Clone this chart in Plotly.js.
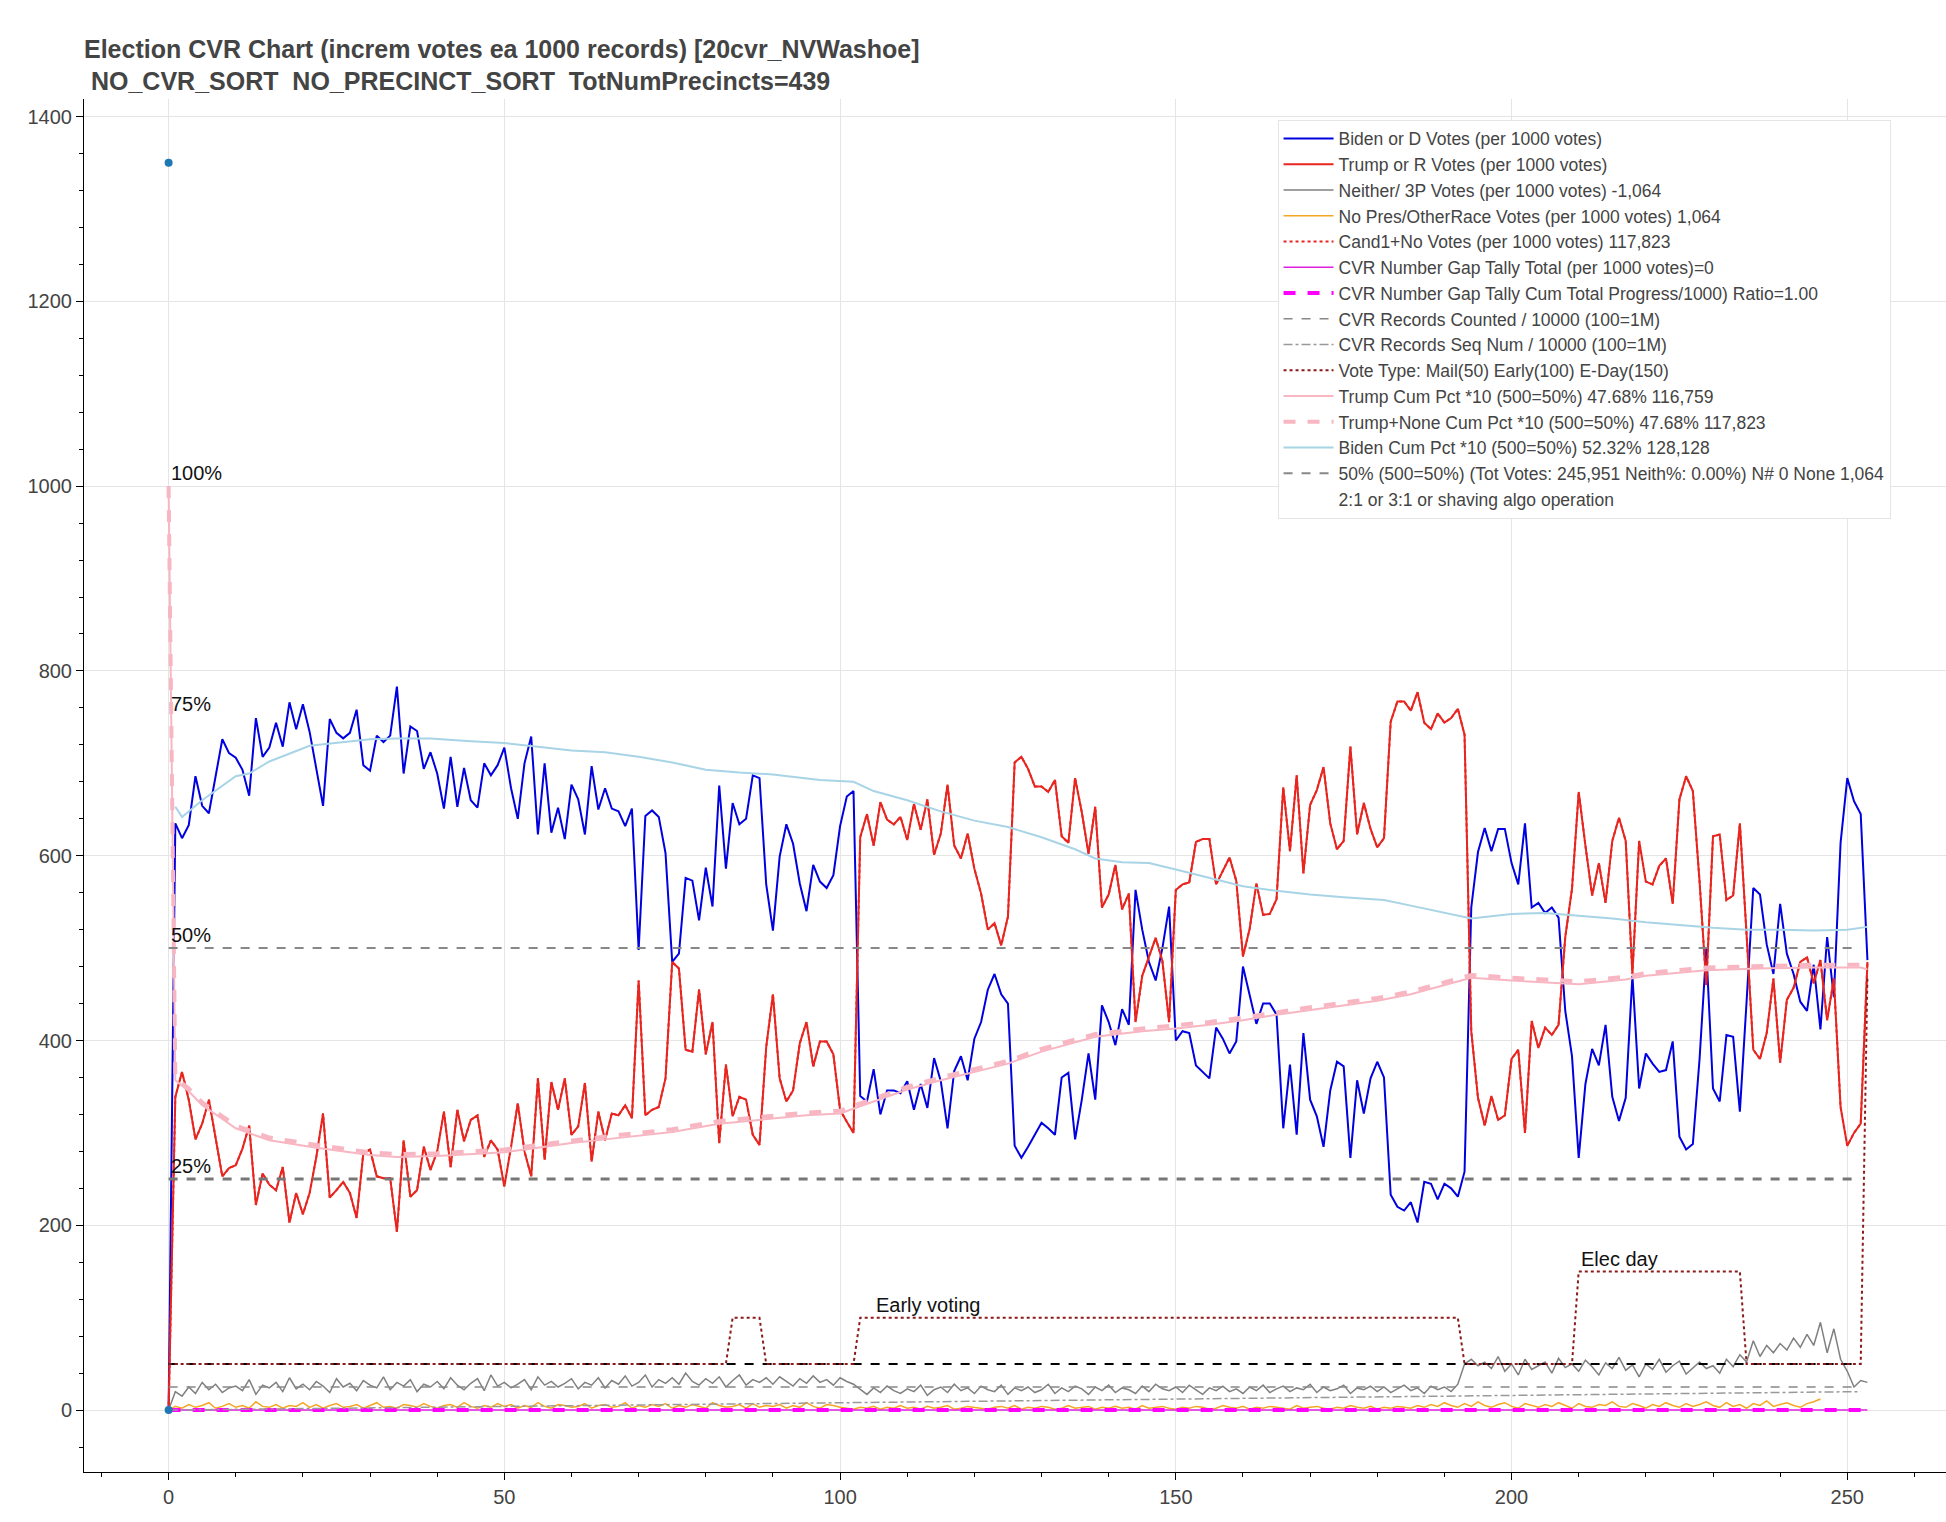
<!DOCTYPE html>
<html><head><meta charset="utf-8">
<script src="https://cdn.plot.ly/plotly-3.0.1.min.js"></script>
<style>body{margin:0;background:#fff}#c{width:1946px;height:1522px}</style>
</head><body><div id="c"></div>
<script>
const biden = [0,635,619,633,686,654,646,686,726,711,706,693,665,749,707,717,744,718,766,737,764,734,696,654,748,733,727,733,758,698,692,730,723,730,783,689,740,735,694,712,689,651,707,653,695,660,652,
700,687,698,717,673,640,700,729,623,700,625,652,618,677,661,623,697,650,673,651,648,632,651,498,643,649,642,603,485,494,576,573,530,587,545,676,586,657,634,640,687,684,569,519,599,634,613,570,540,590,572,565,579,632,664,670,
340,334,369,320,346,346,343,356,325,353,327,381,356,305,367,383,357,402,420,455,472,450,440,286,273,285,298,311,305,298,360,365,293,336,386,336,438,420,395,434,417,563,520,485,465,500,545,400,410,
408,373,366,359,414,402,386,399,480,450,418,440,440,428,305,374,298,408,336,318,285,346,377,372,273,357,321,359,377,360,233,220,216,225,203,247,245,228,245,240,231,258,
544,604,630,605,629,629,592,569,635,544,549,538,544,533,432,383,273,353,391,373,417,339,313,338,470,348,386,375,366,368,399,296,282,288,380,499,348,334,406,404,323,442,565,558,504,472,548,494,472,442,432,482,412,512,447,614,684,659,645,487];
const trump = [0,339,366,336,293,310,336,294,253,262,265,283,308,222,256,244,238,263,203,235,212,235,274,321,230,238,247,235,208,278,282,253,251,251,193,292,231,238,285,260,280,323,263,325,291,314,319,274,292,282,242,285,332,280,253,359,271,355,325,359,298,307,354,269,323,292,321,319,330,316,465,319,325,328,359,485,478,390,388,455,385,420,289,374,318,339,336,298,287,393,450,359,334,346,397,420,372,399,399,385,325,312,300,
620,645,611,658,639,634,642,617,656,628,661,601,624,677,611,597,624,586,559,520,527,503,534,701,707,694,675,675,669,682,621,614,684,647,602,653,544,558,590,542,559,420,470,491,511,486,420,563,569,571,615,618,618,569,584,598,573,491,521,570,536,537,553,674,605,687,581,655,671,696,635,607,616,718,623,657,629,609,619,745,767,767,757,777,744,737,754,744,749,759,731,
410,338,308,340,314,319,380,390,300,421,392,414,406,417,512,564,669,611,557,592,549,616,641,616,472,616,572,569,589,597,548,661,686,670,572,460,621,623,552,557,635,515,390,380,408,467,376,444,457,485,490,462,487,422,467,328,286,300,310,485];
const neither = [0,20,15,25,18,30,22,28,19,24,26,21,33,17,27,24,30,20,35,23,28,22,31,26,19,34,25,29,21,32,27,24,36,22,30,26,33,20,28,25,31,23,35,27,22,29,34,21,38,26,30,24,28,33,22,36,27,31,25,29,34,23,30,27,35,24,32,28,37,26,30,38,25,33,29,35,28,40,31,27,34,29,36,25,32,38,27,33,30,35,28,36,31,26,34,29,37,30,33,27,35,31,28,22,17,24,19,26,21,18,23,20,27,16,22,25,19,28,21,24,18,26,22,20,27,17,24,21,25,19,22,28,18,24,20,26,23,17,25,21,27,19,24,22,18,26,20,28,23,21,25,19,27,22,17,24,21,26,20,23,18,25,21,27,19,23,26,20,24,22,28,19,25,21,23,27,18,24,22,26,20,25,19,23,27,21,24,18,26,22,25,20,28,50,55,48,52,45,58,42,50,38,55,44,48,52,40,56,46,50,42,54,47,38,51,45,57,43,49,36,50,44,55,41,48,53,39,46,52,45,48,40,55,47,60,52,75,58,70,62,72,65,78,68,82,70,95,62,88,55,42,25,32,30];
const nopres = [0,4,2,6,3,5,8,2,4,7,3,5,2,9,4,3,6,2,5,4,8,3,6,2,5,7,3,4,6,2,5,8,3,4,2,6,5,3,7,4,2,5,6,3,8,4,2,5,3,7,4,6,2,5,3,8,4,2,6,5,3,4,7,2,5,6,3,4,8,2,5,3,6,4,7,2,5,3,6,4,2,8,5,3,4,6,2,7,3,5,4,6,2,5,3,8,4,2,6,5,3,2,1,3,2,4,1,3,2,5,2,3,1,4,2,3,5,1,2,4,3,2,1,3,4,2,5,1,3,2,4,3,1,2,5,2,3,4,1,3,2,4,2,3,1,5,2,3,4,2,1,3,2,4,3,1,2,5,3,2,4,1,3,2,4,3,2,1,5,2,3,4,2,1,3,2,5,3,2,4,1,3,2,4,3,2,5,3,6,4,8,5,3,7,4,9,5,3,6,8,4,2,7,5,3,6,4,8,5,2,7,4,3,6,5,9,4,3,7,5,2,6,4,8,5,3,7,4,6,9,5,3,8,4,6,2,7,5,10,4,6,8,5,3,7,9,12];
const voteType = [];
// vote type segments: Mail 50, Early 100, E-Day 150
const voteTypeSegments = [[0,83,50],[84,88,100],[89,102,50],[103,192,100],[193,209,50],[210,234,150],[235,252,50],[253,253,470]];
voteTypeSegments.forEach(s=>{for(let i=s[0];i<=s[1];i++) voteType.push(s[2]);});
const bidenCumX = [1,2,5,10,12,15,21,25,30,34,39,45,50,55,60,65,70,75,80,85,90,97,102,105,110,115,120,125,130,135,138,142,146,150,155,160,165,170,175,181,185,190,194,200,205,210,215,220,225,230,235,240,245,250,253];
const bidenCum = [653,642,660,686,689,702,719,722,726,727,727,724,722,718,714,712,707,701,693,690,688,682,680,670,660,648,638,631,620,607,597,593,592,585,576,567,562,558,555,552,546,538,532,537,538,535,532,528,525,522,520,520,519,520,523];
const trumpCumX = [0,1,3,5,8,10,15,22,30,34,40,45,50,55,60,65,70,75,82,90,95,100,105,110,115,120,125,130,135,138,145,150,155,160,165,170,175,180,185,190,194,200,207,210,217,220,229,237,245,252,253];
const trumpCum = [1000,357,345,330,315,305,292,284,276,274,275,277,279,284,289,293,297,301,310,316,319,321,334,347,357,366,375,388,398,404,410,413,417,422,428,433,438,443,450,460,468,465,462,461,466,470,476,478,479,479,477];
const trumpNoneCum = [1000,360,348,333,318,308,295,287,279,277,278,280,282,287,292,296,300,304,313,319,322,324,337,350,360,369,378,391,401,407,413,416,420,425,431,436,441,446,453,463,471,468,465,464,469,473,479,481,482,482,480];
const seqX = [0,50,100,150,200,252];
const seqNum = [0,4,8,12,16,20];
const pctLevels = [1000,750,500,250];
const pctLabels = ["100%","75%","50%","25%"];
const xRange = [0,252];
const markers = {x:[0,0], y:[0,1350]};

const N = biden.length;
const xs = Array.from({length:N},(_,i)=>i);
const zeros = xs.map(()=>0);
const L = (x,y,name,line,extra)=>Object.assign({x,y,name,type:'scatter',mode:'lines',line},extra||{});
const traces = [
  L(xs,biden,'Biden or D Votes (per 1000 votes)',{color:'#0000e0',width:2}),
  L(xs,trump,'Trump or R Votes (per 1000 votes)',{color:'#e8251f',width:2}),
  L(xs,neither,'Neither/ 3P Votes (per 1000 votes) -1,064',{color:'#808080',width:1.5}),
  L(xs,nopres,'No Pres/OtherRace Votes (per 1000 votes) 1,064',{color:'#f5a623',width:1.5}),
  L(xs,trump,'Cand1+No Votes (per 1000 votes) 117,823',{color:'#e8251f',width:2,dash:'dot'}),
  L(xs,zeros,'CVR Number Gap Tally Total (per 1000 votes)=0',{color:'#e020e0',width:1.5}),
  L(xs,zeros,'CVR Number Gap Tally Cum Total Progress/1000) Ratio=1.00',{color:'#ff00ff',width:4,dash:'dash'}),
  L(xRange,[25,25],'CVR Records Counted / 10000 (100=1M)',{color:'#888',width:1.5,dash:'dash'}),
  L(seqX,seqNum,'CVR Records Seq Num / 10000 (100=1M)',{color:'#999',width:1.5,dash:'dashdot'}),
  L(xRange,[50,50],'',{color:'#000',width:2,dash:'dash'},{showlegend:false}),
  L(xs,voteType,'Vote Type: Mail(50) Early(100) E-Day(150)',{color:'#8b1a1a',width:2,dash:'dot'}),
  L(trumpCumX,trumpCum,'Trump Cum Pct *10 (500=50%) 47.68% 116,759',{color:'#f7b6c2',width:2}),
  L(trumpCumX,trumpNoneCum,'Trump+None Cum Pct *10 (500=50%) 47.68% 117,823',{color:'#f7b6c2',width:4,dash:'dash'}),
  L(bidenCumX,bidenCum,'Biden Cum Pct *10 (500=50%) 52.32% 128,128',{color:'#a8d4e6',width:2}),
  L(xRange,[pctLevels[2],pctLevels[2]],'50% (500=50%) (Tot Votes: 245,951 Neith%: 0.00%) N# 0 None 1,064',{color:'#888',width:2,dash:'dash'}),
  L(xRange,[pctLevels[3],pctLevels[3]],'',{color:'#777',width:3,dash:'dash'},{showlegend:false}),
  L([null],[null],'2:1 or 3:1 or shaving algo operation',{color:'rgba(0,0,0,0)',width:0}),
  {x:markers.x,y:markers.y,type:'scatter',mode:'markers',marker:{color:'#1f77b4',size:8},showlegend:false}
];
const ann = pctLevels.map((v,i)=>({x:0,y:v,text:pctLabels[i],showarrow:false,xanchor:'left',yanchor:'bottom',font:{size:20,color:'#111'}}));
ann.push({x:105,y:100,text:'Early voting',showarrow:false,xanchor:'left',yanchor:'bottom',font:{size:20,color:'#111'}});
ann.push({x:210,y:150,text:'Elec day',showarrow:false,xanchor:'left',yanchor:'bottom',font:{size:20,color:'#111'}});
const layout = {
  width:1946,height:1522,margin:{l:84,r:0,t:99,b:50},
  paper_bgcolor:'#fff',plot_bgcolor:'#fff',
  font:{family:'Liberation Sans, Arial, sans-serif',color:'#444'},
  title:{text:'<b>Election CVR Chart (increm votes ea 1000 records) [20cvr_NVWashoe]<br> NO_CVR_SORT  NO_PRECINCT_SORT  TotNumPrecincts=439</b>',x:0,xref:'paper',xanchor:'left',y:0.962,yanchor:'top',font:{size:25,color:'#444'}},
  xaxis:{range:[-12.6,264.7],tickvals:[0,50,100,150,200,250],showgrid:true,gridcolor:'#e5e5e5',zeroline:false,showline:true,linecolor:'#000',ticks:'outside',ticklen:7,tickcolor:'#000',minor:{dtick:10,ticks:'outside',ticklen:4,tickcolor:'#000',showgrid:false},tickfont:{size:20,color:'#444'}},
  yaxis:{range:[-67,1419],tickvals:[0,200,400,600,800,1000,1200,1400],showgrid:true,gridcolor:'#e5e5e5',zeroline:false,showline:true,linecolor:'#000',ticks:'outside',ticklen:7,tickcolor:'#000',minor:{dtick:40,ticks:'outside',ticklen:4,tickcolor:'#000',showgrid:false},tickfont:{size:20,color:'#444'}},
  legend:{x:0.641,y:0.985,xanchor:'left',yanchor:'top',bgcolor:'#fff',bordercolor:'#e5e5e5',borderwidth:1,font:{size:17.5,color:'#444'},tracegroupgap:0,itemwidth:50},
  annotations:ann,showlegend:true
};
Plotly.newPlot('c',traces,layout,{displayModeBar:false});
</script></body></html>
